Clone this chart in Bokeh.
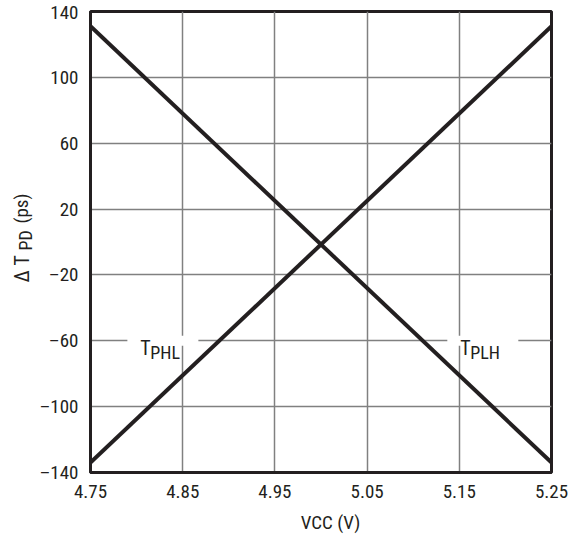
import math
from bokeh.plotting import figure
from bokeh.models import Label, Range1d, FixedTicker
from bokeh.layouts import row, column
from bokeh.embed import file_html
from bokeh.resources import INLINE

# ---- data ----
vcc = [4.75, 5.25]
tphl = [-134, 131]
tplh = [131, -134]

x_ticks = [4.75, 4.85, 4.95, 5.05, 5.15, 5.25]
x_tick_labels = ["4.75", "4.85", "4.95", "5.05", "5.15", "5.25"]
y_ticks = [-140, -100, -60, -20, 20, 60, 100, 140]
y_tick_labels = ["\u2013140", "\u2013100", "\u201360", "\u201320", "20", "60", "100", "140"]

series_names = ["PHL", "PLH"]
series_label_x = [4.804, 5.151]
series_label_y = [-60, -60]

FONT = "'Liberation Sans Narrow', 'Roboto Condensed', 'DejaVu Sans Condensed', sans-serif"
INK = "#231f20"
GRID = "#808080"

TOTAL_W, TOTAL_H = 572, 534
YLAB_W = 36
FRAME_LEFT = 90
TOP, BOTTOM = 11, 36
FRAME = 461
MAIN_H = TOP + FRAME + BOTTOM
yr = Range1d(-140, 140)


def blank(fig):
    fig.outline_line_color = None
    fig.grid.visible = False
    fig.background_fill_color = "white"
    fig.border_fill_color = "white"


p = figure(width=TOTAL_W - YLAB_W, height=MAIN_H,
           x_range=Range1d(4.75, 5.25), y_range=yr,
           output_backend="svg", toolbar_location=None,
           min_border_left=FRAME_LEFT - YLAB_W,
           min_border_right=TOTAL_W - FRAME_LEFT - FRAME,
           min_border_top=TOP, min_border_bottom=BOTTOM)

p.background_fill_color = "white"
p.border_fill_color = "white"
p.outline_line_color = INK
p.outline_line_width = 3

for ax, ticks, labels in ((p.xaxis[0], x_ticks, x_tick_labels), (p.yaxis[0], y_ticks, y_tick_labels)):
    ax.ticker = FixedTicker(ticks=ticks)
    ax.major_label_overrides = {t: l for t, l in zip(ticks, labels)}
    ax.axis_line_color = INK
    ax.axis_line_width = 3
    ax.major_tick_line_color = None
    ax.minor_tick_line_color = None
    ax.major_tick_out = 0
    ax.major_tick_in = 0
    ax.minor_tick_out = 0
    ax.major_label_standoff = 12
    ax.major_label_text_font = FONT
    ax.major_label_text_font_size = "19px"
    ax.major_label_text_color = INK

p.xgrid.ticker = FixedTicker(ticks=x_ticks)
p.ygrid.ticker = FixedTicker(ticks=y_ticks)
for g in (p.xgrid[0], p.ygrid[0]):
    g.grid_line_color = GRID
    g.grid_line_width = 1.5

# white gaps in gridline behind the series labels
gap_left = [x - 0.014 for x in series_label_x]
gap_right = [x + 0.063 for x in series_label_x]
gap_bottom = [y - 3 for y in series_label_y]
gap_top = [y + 3 for y in series_label_y]
p.quad(left=gap_left, right=gap_right, bottom=gap_bottom, top=gap_top,
       fill_color="white", line_color=None)

p.line(vcc, tphl, line_width=4, line_color=INK)
p.line(vcc, tplh, line_width=4, line_color=INK)

for name, lx, ly in zip(series_names, series_label_x, series_label_y):
    p.add_layout(Label(x=lx, y=ly, text="T", y_offset=-7,
                       text_font=FONT, text_font_size="20px", text_color=INK,
                       text_align="left", text_baseline="alphabetic"))
    p.add_layout(Label(x=lx, y=ly, text=name, x_offset=10, y_offset=-12,
                       text_font=FONT, text_font_size="18px", text_color=INK,
                       text_align="left", text_baseline="alphabetic"))

# y axis title: narrow side figure (x in pixels), rotated, with subscript
ylab = figure(width=YLAB_W, height=MAIN_H, x_range=Range1d(0, YLAB_W), y_range=yr,
              output_backend="svg", toolbar_location=None,
              x_axis_type=None, y_axis_type=None,
              min_border_left=0, min_border_right=0,
              min_border_top=TOP, min_border_bottom=BOTTOM)
blank(ylab)

ylab_y = -24.6
for txt, bx, dy, fs in (("\u0394 T", 21, 0, "20px"), ("PD", 24.5, 32, "18px"), ("(ps)", 21, 59, "19px")):
    ylab.add_layout(Label(x=bx, y=ylab_y, text=txt, y_offset=dy,
                          angle=math.pi / 2, text_font=FONT, text_font_size=fs,
                          text_color=INK, text_align="left", text_baseline="alphabetic"))

# x axis title: strip figure below (pixel units, y measured from strip bottom)
XLAB_H = TOTAL_H - MAIN_H
xlab = figure(width=TOTAL_W, height=XLAB_H, x_range=Range1d(0, TOTAL_W), y_range=Range1d(0, XLAB_H),
              output_backend="svg", toolbar_location=None,
              x_axis_type=None, y_axis_type=None,
              min_border_left=0, min_border_right=0, min_border_top=0, min_border_bottom=0)
blank(xlab)
xlab.add_layout(Label(x=330, y=1, text="VCC (V)", text_font=FONT,
                      text_font_size="19px", text_color=INK,
                      text_align="center", text_baseline="bottom"))

layout = column(row(ylab, p), xlab)
open("out.html", "w").write(file_html(layout, INLINE))
